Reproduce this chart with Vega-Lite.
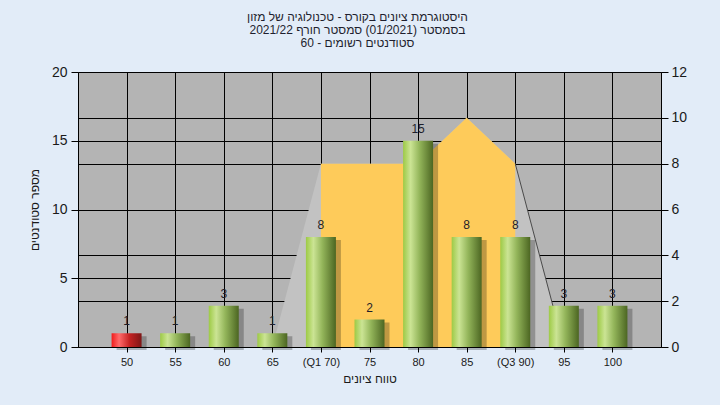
{
  "$schema": "https://vega.github.io/schema/vega-lite/v6.json",
  "width": 583,
  "height": 275,
  "autosize": {"type": "none"},
  "padding": {"left": 78, "top": 72, "right": 59, "bottom": 58},
  "background": "#e2ecf8",
  "config": {
    "font": "Liberation Sans",
    "view": {"fill": "#b4b4b4", "stroke": null},
    "axis": {
      "domainColor": "#000000",
      "tickColor": "#000000",
      "gridColor": "#000000",
      "gridOpacity": 1,
      "gridWidth": 1,
      "domainWidth": 1,
      "labelColor": "#1a1a1a",
      "titleColor": "#1a1a1a",
      "titleFontWeight": "normal"
    }
  },
  "title": {
    "text": ["היסטוגרמת ציונים בקורס - טכנולוגיה של מזון", "בסמסטר  (01/2021)  סמסטר חורף 2021/22", "סטודנטים רשומים - 60"],
    "fontSize": 12,
    "fontWeight": "normal",
    "color": "#1f1f2f",
    "lineHeight": 13,
    "anchor": "middle",
    "frame": "bounds",
    "offset": 15
  },
  "datasets": {
    "bars": [
      {"label": "50", "count": 1},
      {"label": "55", "count": 1},
      {"label": "60", "count": 3},
      {"label": "65", "count": 1},
      {"label": "(Q1 70)", "count": 8},
      {"label": "75", "count": 2},
      {"label": "80", "count": 15},
      {"label": "85", "count": 8},
      {"label": "(Q3 90)", "count": 8},
      {"label": "95", "count": 3},
      {"label": "100", "count": 3}
    ],
    "curve": [
      {"label": "65", "v": 0},
      {"label": "(Q1 70)", "v": 8},
      {"label": "75", "v": 8},
      {"label": "80", "v": 8},
      {"label": "85", "v": 10},
      {"label": "(Q3 90)", "v": 8},
      {"label": "95", "v": 0}
    ]
  },
  "encoding": {
    "x": {
      "field": "label",
      "type": "nominal",
      "scale": {"type": "point", "padding": 1, "domain": ["50", "55", "60", "65", "(Q1 70)", "75", "80", "85", "(Q3 90)", "95", "100"]},
      "axis": {"title": "טווח ציונים", "labelAngle": 0, "grid": true, "tickSize": 5, "labelFontSize": 11, "labelPadding": 4, "titleFontSize": 12, "titlePadding": 6}
    }
  },
  "layer": [
    {
      "data": {"name": "curve"},
      "encoding": {
        "y": {"field": "v", "type": "quantitative", "scale": {"domain": [0, 12], "nice": false},
          "axis": {"orient": "right", "values": [0, 2, 4, 6, 8, 10, 12], "title": null, "grid": true, "tickSize": 7, "labelFontSize": 14, "labelPadding": 3}}
      },
      "layer": [
        {"mark": {"type": "area", "color": "#c2c2c2"}, "encoding": {}},
        {"transform": [{"filter": {"field": "label", "oneOf": ["(Q1 70)", "75", "80", "85", "(Q3 90)"]}}],
          "mark": {"type": "area", "color": "#fecb5a"}, "encoding": {}},
        {"transform": [{"filter": {"field": "label", "oneOf": ["(Q3 90)", "95"]}}],
          "mark": {"type": "line", "color": "#4a4a4a", "strokeWidth": 1}, "encoding": {}}
      ]
    },
    {
      "data": {"name": "bars"},
      "encoding": {
        "y": {"field": "count", "type": "quantitative", "scale": {"domain": [0, 20], "nice": false},
          "axis": {"orient": "left", "values": [0, 5, 10, 15, 20], "title": "מספר סטודנטים", "grid": true, "tickSize": 7, "labelPadding": 4, "labelFontSize": 14, "titleFontSize": 12, "titlePadding": 10}}
      },
      "layer": [
        {"mark": {"type": "bar", "width": 30, "xOffset": 5, "yOffset": 3, "y2Offset": 5, "color": "#000000", "opacity": 0.25}},
        {"mark": {"type": "bar", "width": 30},
          "encoding": {
            "color": {
              "condition": {"test": "datum.label === '50'", "value": {"gradient": "linear", "x1": 0, "y1": 0, "x2": 1, "y2": 0, "stops": [{"offset": 0, "color": "#f01c1c"}, {"offset": 0.25, "color": "#ff6a6a"}, {"offset": 0.6, "color": "#c42222"}, {"offset": 1, "color": "#7e1616"}]}},
              "value": {"gradient": "linear", "x1": 0, "y1": 0, "x2": 1, "y2": 0, "stops": [{"offset": 0, "color": "#9dca45"}, {"offset": 0.25, "color": "#cbe494"}, {"offset": 0.55, "color": "#93b55a"}, {"offset": 1, "color": "#4c6622"}]}
            }
          }},
        {"mark": {"type": "text", "dy": -8, "baseline": "alphabetic", "fontSize": 12, "color": "#1e1e2a"},
          "encoding": {"text": {"field": "count", "type": "quantitative"}}},
        {"data": {"values": [{"label": "75", "note": "במשימה : Final_A"}]},
          "mark": {"type": "text", "baseline": "middle", "dy": 14, "fontSize": 12, "color": "#1e1e2a"},
          "encoding": {"y": {"datum": 20}, "text": {"field": "note"}}}
      ]
    }
  ],
  "resolve": {"scale": {"y": "independent"}}
}
